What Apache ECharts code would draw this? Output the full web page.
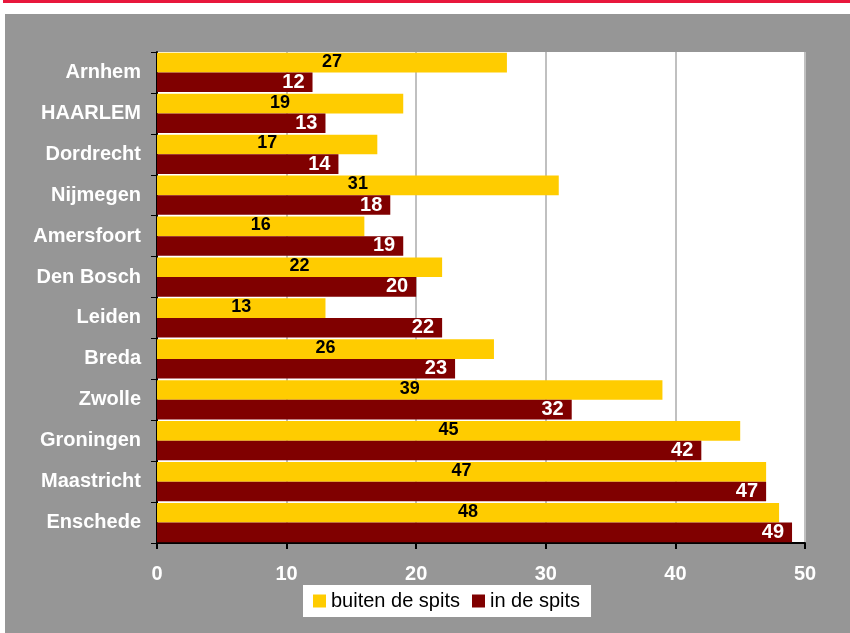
<!DOCTYPE html>
<html><head><meta charset="utf-8">
<script src="https://cdn.jsdelivr.net/npm/echarts@6/dist/echarts.min.js"></script>
<style>html,body{margin:0;padding:0;background:#fff}#c{width:850px;height:633px}</style>
</head><body><div id="c"></div>
<script>
const cities = ['Arnhem','HAARLEM','Dordrecht','Nijmegen','Amersfoort','Den Bosch','Leiden','Breda','Zwolle','Groningen','Maastricht','Enschede'];
const buitenDeSpits = [27,19,17,31,16,22,13,26,39,45,47,48];
const inDeSpits = [12,13,14,18,19,20,22,23,32,42,47,49];
const xTicks = [0,10,20,30,40,50];

const chart = echarts.init(document.getElementById('c'));
const font = 'Liberation Sans, Arial, sans-serif';
chart.setOption({
  backgroundColor: '#ffffff',
  animation: false,
  graphic: [
    {type:'rect', left:3, top:0, shape:{width:847, height:3}, style:{fill:'#e8173c'}, z:-10},
    {type:'rect', left:5, top:14, shape:{width:845, height:619}, style:{fill:'#969696'}, z:-10}
  ],
  grid: {left:157, right:45, top:52, bottom:90, show:true, backgroundColor:'#ffffff', borderWidth:0},
  legend: {
    left:303, top:585, backgroundColor:'#ffffff', padding:[6,11,6,10],
    itemWidth:13, itemHeight:13, itemGap:12,
    icon:'rect',
    textStyle:{fontFamily:font, fontSize:20, color:'#000'},
    data:['buiten de spits','in de spits']
  },
  xAxis: {
    type:'value', min:0, max:50, interval:10,
    axisLine:{show:true, lineStyle:{color:'#000', width:2}},
    axisTick:{show:true, length:6, lineStyle:{color:'#000', width:2}},
    axisLabel:{color:'#fff', fontFamily:font, fontWeight:'bold', fontSize:20, margin:21,
      formatter: v => xTicks.includes(v) ? String(v) : ''},
    splitLine:{show:true, lineStyle:{color:'#c0c0c0', width:2}}
  },
  yAxis: {
    type:'category', data:cities, inverse:true,
    axisLine:{show:true, lineStyle:{color:'#000', width:2}},
    axisTick:{show:true, length:6, inside:false, lineStyle:{color:'#000', width:1}},
    axisLabel:{color:'#fff', fontFamily:font, fontWeight:'bold', fontSize:20, margin:16}
  },
  series: [
    {name:'buiten de spits', type:'bar', data:buitenDeSpits, barGap:'0%', barCategoryGap:'4%',
     itemStyle:{color:'#ffcc00'},
     label:{show:true, position:'inside', color:'#000', fontFamily:font, fontWeight:'bold', fontSize:18, offset:[0,-1]}},
    {name:'in de spits', type:'bar', data:inDeSpits, barGap:'0%', barCategoryGap:'4%',
     itemStyle:{color:'#800000'},
     label:{show:true, position:'insideRight', color:'#fff', fontFamily:font, fontWeight:'bold', fontSize:20, distance:8}}
  ]
});
</script></body></html>
